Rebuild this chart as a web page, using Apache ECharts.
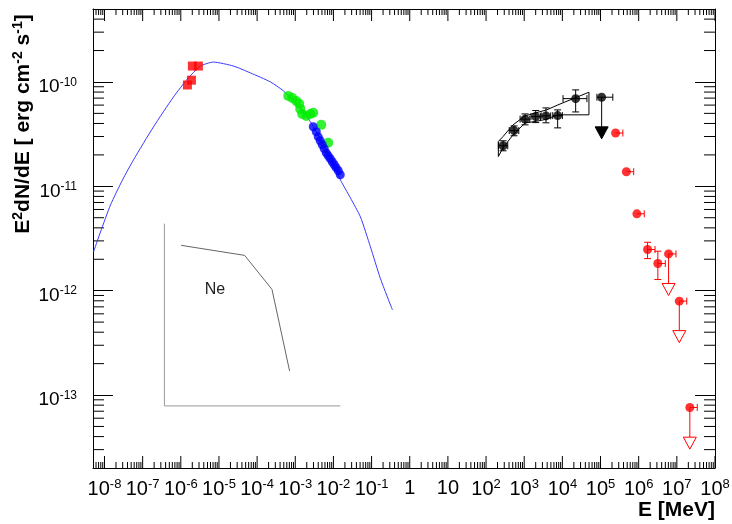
<!DOCTYPE html>
<html>
<head>
<meta charset="utf-8">
<script src="https://cdn.jsdelivr.net/npm/echarts@6/dist/echarts.min.js"></script>
<style>
html, body { margin: 0; padding: 0; background: #fff; }
#chart { width: 732px; height: 524px; }
</style>
</head>
<body>
<div id="chart"></div>
<script>
// 坐标范围
const xMin = 5e-9, xMax = 1e8
const yMin = 2e-14, yMax = 5e-10

// x 轴主刻度 (每个数量级)
const xMajor = [1e-8, 1e-7, 1e-6, 1e-5, 1e-4, 1e-3, 1e-2, 1e-1, 1, 10, 1e2, 1e3, 1e4, 1e5, 1e6, 1e7, 1e8]

// 同步辐射模型曲线
const curveE = [5.15e-9, 7.85e-9, 1.44e-8, 2.96e-8, 5.75e-8, 1.92e-7, 6.43e-7, 1.50e-6, 3.28e-6, 7.18e-6, 2.40e-5, 6.70e-5, 2.24e-4, 4.91e-4, 1.14e-3, 2.50e-3, 6.18e-3, 1.53e-2, 2.79e-2, 5.10e-2, 9.33e-2, 0.171, 0.352]
const curveF = [2.35e-12, 3.65e-12, 6.64e-12, 1.15e-11, 1.79e-11, 3.71e-11, 7.18e-11, 1.07e-10, 1.42e-10, 1.55e-10, 1.42e-10, 1.22e-10, 1.00e-10, 8.20e-11, 6.03e-11, 4.14e-11, 2.33e-11, 1.15e-11, 7.74e-12, 5.09e-12, 2.63e-12, 1.30e-12, 6.55e-13]

// 光学 (红色方块)
const optE = [2.01e-6, 2.89e-6, 1.90e-6, 1.49e-6]
const optF = [1.42e-10, 1.42e-10, 1.04e-10, 9.35e-11]

// 绿色点
const greenE = [6.56e-4, 8.34e-4, 1.06e-3, 1.27e-3, 1.35e-3, 1.52e-3, 1.94e-3, 2.47e-3, 2.96e-3, 4.80e-3, 7.31e-3]
const greenF = [7.35e-11, 7.03e-11, 6.58e-11, 6.17e-11, 5.52e-11, 4.94e-11, 4.73e-11, 4.94e-11, 5.06e-11, 3.88e-11, 2.61e-11]

// 蓝色点
const blueE = [2.96e-3, 3.55e-3, 4.00e-3, 4.51e-3, 5.09e-3, 5.74e-3, 6.49e-3, 7.31e-3, 8.24e-3, 9.31e-3, 1.05e-2, 1.18e-2, 1.34e-2, 1.51e-2]
const blueF = [3.72e-11, 3.33e-11, 2.98e-11, 2.73e-11, 2.50e-11, 2.29e-11, 2.09e-11, 1.96e-11, 1.84e-11, 1.72e-11, 1.61e-11, 1.51e-11, 1.41e-11, 1.29e-11]

// 黑色点 (带误差)
const blackE = [279, 541, 1050, 2000, 3720, 7530, 22300]
const blackF = [2.45e-11, 3.42e-11, 4.40e-11, 4.66e-11, 4.73e-11, 4.76e-11, 6.92e-11]
const blackElo = [210, 405, 780, 1500, 2780, 5600, 10400]
const blackEhi = [370, 720, 1400, 2650, 4950, 10000, 44000]
const blackFlo = [2.19e-11, 3.05e-11, 3.88e-11, 4.08e-11, 4.06e-11, 3.63e-11, 5.16e-11]
const blackFhi = [2.73e-11, 3.79e-11, 4.94e-11, 5.32e-11, 5.64e-11, 5.40e-11, 8.39e-11]

// 黑色上限
const blackUlE = [1.07e5]
const blackUlF = [7.14e-11]
const blackUlElo = [8.05e4]
const blackUlEhi = [2.10e5]
const blackUlTip = [2.85e-11]

// 蝴蝶图 (闭合多边形)
const bowE = [210, 279, 509, 1050, 2125, 3880, 7670, 49700, 49700, 7670, 3880, 2125, 1050, 509, 279, 210, 210]
const bowF = [2.69e-11, 3.00e-11, 3.88e-11, 4.73e-11, 5.09e-11, 5.40e-11, 6.03e-11, 7.97e-11, 4.84e-11, 4.84e-11, 4.40e-11, 4.20e-11, 4.05e-11, 3.11e-11, 2.34e-11, 1.93e-11, 2.69e-11]

// 红色点
const redE = [2.48e5, 4.76e5, 8.97e5, 1.71e6, 3.18e6]
const redF = [3.24e-11, 1.38e-11, 5.45e-12, 2.48e-12, 1.82e-12]
const redEhi = [3.85e5, 7.40e5, 1.40e6, 2.68e6, 4.98e6]
const redFlo = [3.24e-11, 1.38e-11, 5.45e-12, 2.03e-12, 1.28e-12]
const redFhi = [3.24e-11, 1.38e-11, 5.45e-12, 2.91e-12, 2.39e-12]

// 红色上限
const redUlE = [6.07e6, 1.16e7, 2.19e7]
const redUlF = [2.25e-12, 7.94e-13, 7.60e-14]
const redUlEhi = [9.5e6, 1.82e7, 3.43e7]
const redUlTip = [9.0e-13, 3.18e-13, 3.03e-14]

// Ne 插图
const neFrameE = [3.72e-7, 3.72e-7, 1.51e-2]
const neFrameF = [4.39e-12, 7.87e-14, 7.87e-14]
const neCurveE = [1.02e-6, 4.71e-5, 2.45e-4, 7.10e-4]
const neCurveF = [2.72e-12, 2.18e-12, 1.03e-12, 1.70e-13]

const pairs = (xs, ys) => xs.map((x, i) => [x, ys[i]])

// 次刻度
const minorTicks = (lo, hi) => {
  const out = []
  for (let e = Math.floor(Math.log10(lo)); e < Math.ceil(Math.log10(hi)); e++) {
    for (let k = 2; k <= 9; k++) {
      const v = k * Math.pow(10, e)
      if (v > lo * 1.0001 && v < hi * 0.9999) out.push(v)
    }
  }
  return out
}
const xMinor = minorTicks(xMin, xMax)
const yMinor = minorTicks(yMin, yMax)

const expLabel = (v) => {
  const e = Math.log10(v)
  const r = Math.round(e)
  if (Math.abs(e - r) > 1e-6) return ''
  if (r === 0) return '1'
  if (r === 1) return '10'
  return '10{sup|' + r + '}'
}

const FONT = 'Liberation Sans, Arial, sans-serif'
const labelRich = { sup: { fontSize: 12, fontFamily: FONT, color: '#000', fill: '#000', padding: [0, 0, 9, 0] } }
const xLabelRich = { sup: { fontSize: 13, fontFamily: FONT, fill: '#000', padding: [0, 0, 9, 0] } }

const line = (x1, y1, x2, y2, color) => ({
  type: 'line', shape: { x1, y1, x2, y2 }, style: { stroke: color, lineWidth: 1 }
})

// 误差棒
const errorBar = (color) => (params, api) => {
  const e = api.value(0), f = api.value(1)
  const p = api.coord([e, f])
  const kids = []
  const lo = api.coord([api.value(2), f]), hi = api.coord([api.value(3), f])
  if (hi[0] - lo[0] > 0.5) {
    kids.push(line(lo[0], p[1], hi[0], p[1], color))
    if (api.value(2) < e) kids.push(line(lo[0], p[1] - 3.5, lo[0], p[1] + 3.5, color))
    if (api.value(3) > e) kids.push(line(hi[0], p[1] - 3.5, hi[0], p[1] + 3.5, color))
  }
  const flo = api.coord([e, api.value(4)]), fhi = api.coord([e, api.value(5)])
  if (flo[1] - fhi[1] > 0.5) {
    kids.push(line(p[0], fhi[1], p[0], flo[1], color))
    kids.push(line(p[0] - 3.5, fhi[1], p[0] + 3.5, fhi[1], color))
    kids.push(line(p[0] - 3.5, flo[1], p[0] + 3.5, flo[1], color))
  }
  return { type: 'group', children: kids }
}

// 上限箭头
const ulArrow = (color, fill) => (params, api) => {
  const p = api.coord([api.value(0), api.value(1)])
  const t = api.coord([api.value(0), api.value(2)])
  const base = t[1] - 12
  return {
    type: 'group',
    children: [
      line(p[0], p[1], p[0], base, color),
      {
        type: 'polygon',
        shape: { points: [[t[0] - 6.5, base], [t[0] + 6.5, base], [t[0], t[1]]] },
        style: { fill: fill, stroke: color, lineWidth: 1 }
      }
    ]
  }
}

const chart = echarts.init(document.getElementById('chart'))

const xAxisBase = {
  type: 'log', logBase: 10, min: xMin, max: xMax,
  axisLine: { lineStyle: { color: '#000', width: 1 } },
  splitLine: { show: false },
  axisTick: { show: false },
  axisLabel: { show: false }
}
const yAxisBase = {
  type: 'log', logBase: 10, min: yMin, max: yMax, splitNumber: 5,
  axisLine: { lineStyle: { color: '#000', width: 1 } },
  splitLine: { show: false },
  axisTick: { inside: true, length: 20, lineStyle: { color: '#000' } }
}

chart.setOption({
  animation: false,
  backgroundColor: '#fff',
  grid: { left: 93, right: 17, top: 9, bottom: 56 },
  xAxis: [
    Object.assign({}, xAxisBase, { position: 'bottom' }),
    Object.assign({}, xAxisBase, { position: 'top' })
  ],
  yAxis: [
    Object.assign({}, yAxisBase, {
      position: 'left',
      axisLabel: { show: true, interval: 0, margin: 16, padding: [10, 0, 0, 0], fontSize: 19, fontFamily: FONT, color: '#000', formatter: expLabel, rich: labelRich }
    }),
    Object.assign({}, yAxisBase, { position: 'right', axisLabel: { show: false } })
  ],
  graphic: [
    {
      type: 'text', x: 23, y: 124, rotation: Math.PI / 2,
      style: {
        text: 'E{sup|2}dN/dE [ erg cm{sup|-2} s{sup|-1}]',
        fontSize: 21, fontWeight: 'bold', fontFamily: FONT, fill: '#000',
        align: 'center', verticalAlign: 'middle',
        rich: { sup: { fontSize: 14, fontWeight: 'bold', fontFamily: FONT, padding: [0, 0, 9, 0] } }
      }
    },
    {
      type: 'text', x: 715, y: 510,
      style: { text: 'E [MeV]', fontSize: 21, fontWeight: 'bold', fontFamily: FONT, fill: '#000', align: 'right', verticalAlign: 'middle' }
    },
    {
      type: 'text', x: 215, y: 290,
      style: { text: 'Ne', fontSize: 16, fontFamily: FONT, fill: '#222', align: 'center', verticalAlign: 'middle' }
    }
  ],
  series: [
    {
      // x 主刻度与标签
      type: 'custom', silent: true, z: 1, clip: false,
      data: xMajor.map(v => [v, yMin]),
      renderItem: (params, api) => {
        const v = api.value(0)
        const b = api.coord([v, yMin])
        const t = api.coord([v, yMax])
        return {
          type: 'group', children: [
            line(b[0], b[1], b[0], b[1] - 12, '#000'),
            line(t[0], t[1], t[0], t[1] + 12, '#000'),
            {
              type: 'text', x: b[0], y: b[1] + 10,
              style: { text: expLabel(v), rich: xLabelRich, fontSize: 20, fontFamily: FONT, fill: '#000', align: 'center', verticalAlign: 'top' }
            }
          ]
        }
      }
    },
    {
      type: 'custom', silent: true, z: 1,
      data: xMinor.map(v => [v, yMin]),
      renderItem: (params, api) => {
        const b = api.coord([api.value(0), yMin])
        const t = api.coord([api.value(0), yMax])
        return { type: 'group', children: [line(b[0], b[1], b[0], b[1] - 6, '#000'), line(t[0], t[1], t[0], t[1] + 6, '#000')] }
      }
    },
    {
      type: 'custom', silent: true, z: 1,
      data: yMinor.map(v => [xMin, v]),
      renderItem: (params, api) => {
        const l = api.coord([xMin, api.value(1)])
        const r = api.coord([xMax, api.value(1)])
        return { type: 'group', children: [line(l[0], l[1], l[0] + 11, l[1], '#000'), line(r[0], r[1], r[0] - 11, r[1], '#000')] }
      }
    },
    {
      name: 'Ne frame', type: 'line', data: pairs(neFrameE, neFrameF), symbol: 'none',
      lineStyle: { color: '#999', width: 1 }, z: 2, silent: true
    },
    {
      name: 'Ne', type: 'line', data: pairs(neCurveE, neCurveF), symbol: 'none',
      lineStyle: { color: '#666', width: 1 }, z: 2, silent: true
    },
    {
      name: 'model', type: 'line', data: pairs(curveE, curveF), symbol: 'none', smooth: 0.2,
      lineStyle: { color: '#3a3aff', width: 1 }, z: 2, silent: true
    },
    {
      name: 'bowtie', type: 'line', data: pairs(bowE, bowF), symbol: 'none',
      lineStyle: { color: '#000', width: 1 }, z: 2, silent: true
    },
    {
      type: 'custom', z: 3, silent: true,
      data: blackE.map((e, i) => [e, blackF[i], blackElo[i], blackEhi[i], blackFlo[i], blackFhi[i]]),
      renderItem: errorBar('#000')
    },
    {
      type: 'custom', z: 3, silent: true,
      data: blackUlE.map((e, i) => [e, blackUlF[i], blackUlElo[i], blackUlEhi[i], blackUlF[i], blackUlF[i]]),
      renderItem: errorBar('#000')
    },
    {
      type: 'custom', z: 3, silent: true,
      data: blackUlE.map((e, i) => [e, blackUlF[i], blackUlTip[i]]),
      renderItem: ulArrow('#000', '#000')
    },
    {
      type: 'custom', z: 3, silent: true,
      data: redE.map((e, i) => [e, redF[i], e, redEhi[i], redFlo[i], redFhi[i]]),
      renderItem: errorBar('#ff0000')
    },
    {
      type: 'custom', z: 3, silent: true,
      data: redUlE.map((e, i) => [e, redUlF[i], e, redUlEhi[i], redUlF[i], redUlF[i]]),
      renderItem: errorBar('#ff0000')
    },
    {
      type: 'custom', z: 3, silent: true,
      data: redUlE.map((e, i) => [e, redUlF[i], redUlTip[i]]),
      renderItem: ulArrow('#ff0000', '#fff')
    },
    {
      name: 'optical', type: 'scatter', data: pairs(optE, optF), symbol: 'rect', symbolSize: 9,
      itemStyle: { color: '#ff0000' }, z: 4
    },
    {
      name: 'green', type: 'scatter', data: pairs(greenE, greenF), symbol: 'circle', symbolSize: 10,
      itemStyle: { color: '#00ee00' }, z: 4
    },
    {
      name: 'blue', type: 'scatter', data: pairs(blueE, blueF), symbol: 'circle', symbolSize: 9,
      itemStyle: { color: '#0000ff' }, z: 4
    },
    {
      name: 'black', type: 'scatter', data: pairs(blackE.concat(blackUlE), blackF.concat(blackUlF)), symbol: 'circle', symbolSize: 9,
      itemStyle: { color: '#000' }, z: 4
    },
    {
      name: 'red', type: 'scatter', data: pairs(redE.concat(redUlE), redF.concat(redUlF)), symbol: 'circle', symbolSize: 9,
      itemStyle: { color: '#ff0000' }, z: 4
    }
  ]
})
</script>
</body>
</html>
